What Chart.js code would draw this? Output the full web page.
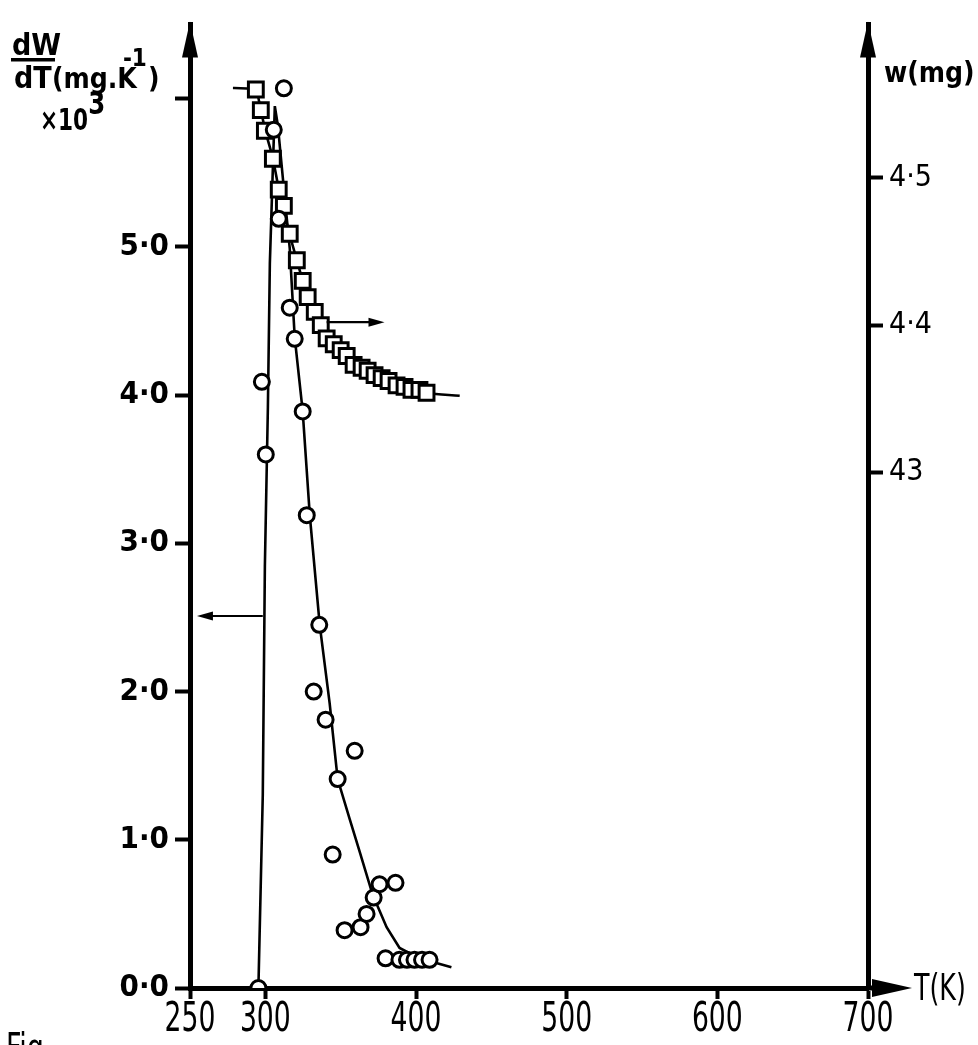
<!DOCTYPE html>
<html>
<head>
<meta charset="utf-8">
<script src="https://cdn.jsdelivr.net/npm/chart.js@4.4.1/dist/chart.umd.min.js"></script>
<style>
  html, body { margin: 0; padding: 0; background: #fff; }
  canvas { display: block; }
</style>
</head>
<body>
<canvas id="tga-chart" width="978" height="1045"></canvas>
<script>
// Tick values and labels
const tempTicks = [250, 300, 400, 500, 600, 700];
const rateTicks = [0, 1, 2, 3, 4, 5, 6];
const rateTickLabels = ['0·0', '1·0', '2·0', '3·0', '4·0', '5·0', ''];
const massTicks = [4.3, 4.4, 4.5];
const massTickLabels = ['43', '4·4', '4·5'];

// dW/dT measurements (circles), T in K, value x 10^3
const rateT = [295.4, 297.7, 300.3, 305.6, 308.9, 312.3, 316.2, 319.5, 324.8, 327.5,
  335.8, 332.1, 340.0, 344.7, 348.0, 352.6, 359.3, 363.2, 367.2, 371.9,
  375.8, 379.8, 386.4, 389, 394, 399, 404, 409];
const rateVal = [0.0, 4.09, 3.60, 5.79, 5.19, 6.07, 4.59, 4.38, 3.89, 3.19,
  2.45, 2.00, 1.81, 0.90, 1.41, 0.39, 1.60, 0.41, 0.50, 0.61,
  0.70, 0.20, 0.71, 0.19, 0.19, 0.19, 0.19, 0.19];

// dW/dT drawn curve
const rateCurveT = [295.4, 298.3, 299.7, 301.7, 303.0, 306.3, 308.3, 312.9, 316.2, 319.5,
  324.8, 329.5, 336.1, 342.7, 348.0, 356.0, 362.6, 371.2, 380.5, 389.1, 402.3, 423.5];
const rateCurveVal = [0.0, 1.30, 2.85, 3.92, 4.89, 5.95, 5.82, 5.33, 4.99, 4.39,
  3.89, 3.19, 2.45, 1.92, 1.41, 1.14, 0.92, 0.63, 0.41, 0.27, 0.20, 0.14];

// sample mass measurements (squares), mg
const massT = [293.7, 297.0, 299.7, 305.0, 308.9, 312.3, 316.2, 320.9, 324.8, 328.1,
  332.8, 336.8, 340.7, 345.4, 350.0, 354.0, 358.6, 363.9, 367.9, 372.5,
  377.2, 381.8, 387.1, 392.4, 397.0, 402.3, 407.0];
const massVal = [4.560, 4.546, 4.532, 4.513, 4.492, 4.481, 4.462, 4.444, 4.430, 4.419,
  4.409, 4.400, 4.391, 4.387, 4.383, 4.379, 4.373, 4.371, 4.369, 4.366,
  4.364, 4.362, 4.359, 4.358, 4.356, 4.356, 4.354];

// mass drawn curve
const massCurveT = [278.5, 293.7, 297.0, 300.0, 305.0, 309.0, 316.0, 321.0, 328.0, 337.0,
  345.0, 354.0, 364.0, 377.0, 392.0, 407.0, 429.0];
const massCurveVal = [4.561, 4.560, 4.546, 4.532, 4.513, 4.492, 4.462, 4.444, 4.419, 4.400,
  4.387, 4.378, 4.370, 4.364, 4.358, 4.354, 4.352];

// pointer arrows: [T from, T to, level]
const rateArrow = [298.3, 254.6, 2.51];
const massArrow = [340.7, 379.1, 4.402];

const ROUND = "'DejaVu Sans Condensed', 'DejaVu Sans', sans-serif";

function toPoints(xs, ys) {
  return xs.map((x, i) => ({ x: x, y: ys[i] }));
}

function head(ctx, tx, ty, dir, len, half) {
  ctx.beginPath();
  if (dir === 'up') {
    ctx.moveTo(tx, ty); ctx.lineTo(tx - half, ty + len); ctx.lineTo(tx + half, ty + len);
  } else if (dir === 'right') {
    ctx.moveTo(tx, ty); ctx.lineTo(tx - len, ty - half); ctx.lineTo(tx - len, ty + half);
  } else {
    ctx.moveTo(tx, ty); ctx.lineTo(tx + len, ty - half); ctx.lineTo(tx + len, ty + half);
  }
  ctx.closePath();
  ctx.fill();
}

// lettering in the original is tall and narrow, so squeeze it sideways
function narrowText(ctx, text, x, y, font, sx, align) {
  ctx.save();
  ctx.font = font + ' ' + ROUND;
  ctx.textAlign = align || 'left';
  ctx.textBaseline = 'alphabetic';
  ctx.translate(x, y);
  ctx.scale(sx, 1);
  ctx.fillText(text, 0, 0);
  const w = ctx.measureText(text).width * sx;
  ctx.restore();
  return w;
}

// axis arrows, pointer arrows, x labels and axis titles
const decor = {
  id: 'decor',
  afterDraw(chart) {
    const { ctx, chartArea: a, scales } = chart;
    const x = scales.x, y = scales.y, y2 = scales.y2;
    ctx.save();
    ctx.fillStyle = '#000';
    ctx.strokeStyle = '#000';

    // axis heads
    head(ctx, a.left, a.top - 3, 'up', 36, 8);
    head(ctx, a.right, a.top - 3, 'up', 36, 8);
    ctx.lineWidth = 5;
    ctx.beginPath();
    ctx.moveTo(a.right, a.bottom);
    ctx.lineTo(a.right + 12, a.bottom);
    ctx.stroke();
    head(ctx, a.right + 44, a.bottom, 'right', 40, 9);

    // pointer arrows
    ctx.lineWidth = 2.2;
    let py = y.getPixelForValue(rateArrow[2]);
    let x0 = x.getPixelForValue(rateArrow[0]), x1 = x.getPixelForValue(rateArrow[1]);
    ctx.beginPath(); ctx.moveTo(x0, py); ctx.lineTo(x1 + 10, py); ctx.stroke();
    head(ctx, x1, py, 'left', 16, 4.5);
    py = y2.getPixelForValue(massArrow[2]);
    x0 = x.getPixelForValue(massArrow[0]); x1 = x.getPixelForValue(massArrow[1]);
    ctx.beginPath(); ctx.moveTo(x0, py); ctx.lineTo(x1 - 10, py); ctx.stroke();
    head(ctx, x1, py, 'right', 16, 4.5);

    // temperature tick labels
    tempTicks.forEach(t => {
      narrowText(ctx, String(t), x.getPixelForValue(t), a.bottom + 43, '40px', 0.74, 'center');
    });

    // left title: dW/dT (mg.K-1) x10^3
    ctx.textBaseline = 'alphabetic';
    ctx.textAlign = 'left';
    ctx.font = 'bold 30px ' + ROUND;
    ctx.fillText('dW', 12, 55);
    ctx.fillRect(11, 58, 44, 3.5);
    ctx.fillText('dT', 14, 88);
    ctx.font = 'bold 28px ' + ROUND;
    let tx = 52;
    ctx.fillText('(mg.K', tx, 88);
    tx += ctx.measureText('(mg.K').width;
    ctx.font = 'bold 24px ' + ROUND;
    ctx.fillText('-1', tx - 14, 66);
    const supW = ctx.measureText('-1').width;
    ctx.font = 'bold 28px ' + ROUND;
    ctx.fillText(')', tx - 14 + supW + 1, 88);
    const tenW = narrowText(ctx, '×10', 40, 130, 'bold 30px', 0.8, 'left');
    narrowText(ctx, '3', 40 + tenW, 114, 'bold 32px', 0.85, 'left');

    // right title
    ctx.font = 'bold 28px ' + ROUND;
    ctx.fillText('w(mg)', 884, 82);

    // x title
    narrowText(ctx, 'T(K)', a.right + 46, a.bottom + 12, '38px', 0.74, 'left');

    // figure caption, cut by the page edge
    narrowText(ctx, 'Fig.', 6, 1062, '40px', 0.75, 'left');
    ctx.restore();
  }
};

new Chart(document.getElementById('tga-chart'), {
  type: 'scatter',
  data: {
    datasets: [
      {
        label: 'dW/dT points',
        data: toPoints(rateT, rateVal),
        yAxisID: 'y',
        pointStyle: 'circle',
        pointRadius: 7.5,
        pointBorderWidth: 3,
        pointBorderColor: '#000',
        pointBackgroundColor: '#fff',
        showLine: false,
      },
      {
        label: 'w points',
        data: toPoints(massT, massVal),
        yAxisID: 'y2',
        pointStyle: 'rect',
        pointRadius: 10.5,
        pointBorderWidth: 3,
        pointBorderColor: '#000',
        pointBackgroundColor: '#fff',
        showLine: false,
      },
      {
        label: 'dW/dT curve',
        data: toPoints(rateCurveT, rateCurveVal),
        yAxisID: 'y',
        showLine: true,
        pointRadius: 0,
        borderColor: '#000',
        borderWidth: 2.6,
        tension: 0,
      },
      {
        label: 'w curve',
        data: toPoints(massCurveT, massCurveVal),
        yAxisID: 'y2',
        showLine: true,
        pointRadius: 0,
        borderColor: '#000',
        borderWidth: 2.6,
        cubicInterpolationMode: 'monotone',
      },
    ],
  },
  options: {
    responsive: false,
    animation: false,
    devicePixelRatio: 1,
    layout: { padding: { top: 13, left: 0, right: 0, bottom: 0 } },
    plugins: {
      legend: { display: false },
      tooltip: { enabled: false },
    },
    scales: {
      x: {
        type: 'linear',
        position: 'bottom',
        min: 250,
        max: 700,
        afterBuildTicks: s => { s.ticks = tempTicks.map(v => ({ value: v })); },
        afterFit: s => { s.height = 57; },
        grid: { drawOnChartArea: false, tickLength: 11, tickWidth: 4, color: '#000' },
        border: { color: '#000', width: 5 },
        ticks: { display: false },
      },
      y: {
        type: 'linear',
        position: 'left',
        min: 0,
        max: 6.5,
        afterBuildTicks: s => { s.ticks = rateTicks.map(v => ({ value: v })); },
        afterFit: s => { s.width = 190; },
        grid: { drawOnChartArea: false, tickLength: 15, tickWidth: 4, color: '#000' },
        border: { color: '#000', width: 5 },
        ticks: {
          color: '#000', padding: 6,
          font: { family: ROUND, size: 31, weight: 'bold' },
          callback: v => rateTickLabels[rateTicks.indexOf(v)],
        },
      },
      y2: {
        type: 'linear',
        position: 'right',
        min: 3.9497,
        max: 4.6041,
        afterBuildTicks: s => { s.ticks = massTicks.map(v => ({ value: v })); },
        afterFit: s => { s.width = 110; },
        grid: { drawOnChartArea: false, tickLength: 15, tickWidth: 4, color: '#000' },
        border: { color: '#000', width: 5 },
        ticks: {
          color: '#000', padding: 6,
          font: { family: ROUND, size: 30 },
          callback: v => massTickLabels[massTicks.findIndex(m => Math.abs(m - v) < 1e-6)],
        },
      },
    },
  },
  plugins: [decor],
});
</script>
</body>
</html>
